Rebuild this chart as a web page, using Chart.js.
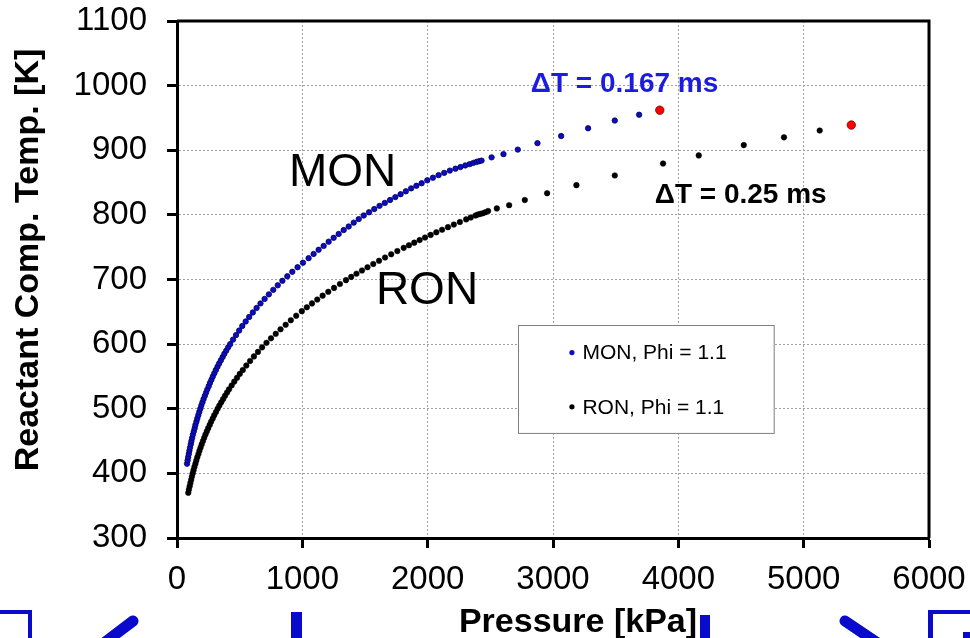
<!DOCTYPE html>
<html>
<head>
<meta charset="utf-8">
<script src="https://cdn.jsdelivr.net/npm/chart.js@4.4.0/dist/chart.umd.min.js"></script>
<style>
  html, body { margin: 0; padding: 0; background: #fff; }
  #wrap { width: 970px; height: 638px; position: relative; }
</style>
</head>
<body>
<div id="wrap"><canvas id="grafico" width="970" height="638"></canvas></div>
<script>
// === Dados ===
const monPressure = [80, 84.5, 89, 94, 99, 104, 110, 115, 121, 127, 134, 141, 147, 155, 162, 170, 178, 186, 194, 203,
  212, 222, 232, 242, 253, 263, 275, 286, 298, 310, 323, 336, 350, 364, 378, 393, 408, 424,
  447, 471, 496, 521, 548, 576, 605, 635, 666, 699, 733, 768, 804, 841, 880, 920, 962, 1005, 1050,
  1090, 1130, 1170, 1210, 1250, 1290, 1330, 1370, 1410, 1450, 1490,
  1532, 1574, 1616, 1658, 1700, 1742, 1784, 1826, 1868, 1910, 1952,
  1997, 2042, 2087, 2132, 2177, 2222, 2262, 2300, 2335, 2365, 2390, 2410, 2430,
  2510, 2605, 2719, 2876, 3065, 3280, 3493, 3687];
const monTemp = [415, 420, 425, 430, 435, 440, 445, 450, 455, 460, 465, 470, 475, 480, 485, 490, 495, 500, 505, 510,
  515, 520, 525, 530, 535, 540, 545, 550, 555, 560, 565, 570, 575, 580, 585, 590, 595, 600,
  607, 614, 621, 628, 635, 642, 649, 656, 663, 670, 677, 684, 691, 698, 705, 712, 719, 726, 733,
  739.5, 746, 752, 758.5, 764.5, 770.5, 776.5, 782, 788, 793.5, 799,
  804, 809, 814, 818.5, 823, 827.5, 832, 836.5, 841, 845, 849,
  853.5, 857.5, 861.5, 865, 868.5, 871.5, 874, 876.5, 878.5, 880.5, 882, 883, 884,
  889, 894, 901, 911, 922, 934, 946, 955];

const ronPressure = [90, 95, 101, 107, 113, 119, 125, 132, 139, 147, 154, 162, 171, 179, 188, 197, 207, 217, 227, 238,
  249, 261, 272, 285, 297, 311, 324, 338, 353, 368, 383, 399, 415,
  436, 457, 479, 501, 525,
  553, 583, 614, 646, 679, 714, 750, 788, 826, 867, 908, 951, 996,
  1036, 1077, 1119, 1162, 1207, 1253, 1300, 1348,
  1390, 1432, 1476, 1520, 1566, 1612, 1660, 1709, 1758, 1809,
  1851, 1893, 1936, 1979, 2024, 2069, 2115, 2162, 2209, 2257, 2307, 2344, 2382,
  2400, 2420, 2440, 2460,
  2482, 2552, 2650, 2775, 2953, 3187, 3493, 3878, 4163, 4522, 4843, 5128];
const ronTemp = [370, 375, 380, 385, 390, 395, 400, 405, 410, 415, 420, 425, 430, 435, 440, 445, 450, 455, 460, 465,
  470, 475, 480, 485, 490, 495, 500, 505, 510, 515, 520, 525, 530,
  536, 542, 548, 554, 560,
  567, 574, 581, 588, 595, 602, 609, 616, 623, 630, 637, 644, 651,
  657, 663, 669, 675, 681, 687, 693, 699,
  704, 709, 714, 719, 724, 729, 734, 739, 744, 749,
  753, 757, 761, 765, 769, 773, 777, 781, 785, 789, 793, 796, 799,
  800.5, 801.5, 802.5, 804,
  806, 810, 815, 823, 833.5, 846, 861, 879.5, 892, 908, 920, 930.5];

// pontos finais (vermelhos)
const endPressure = [3852, 5380];
const endTemp = [962, 939];

const seriesNames = ["MON, Phi = 1.1", "RON, Phi = 1.1"];
const xTicks = [0, 1000, 2000, 3000, 4000, 5000, 6000];
const yTicks = [300, 400, 500, 600, 700, 800, 900, 1000, 1100];

const FONTE = '"Liberation Sans", Arial, sans-serif';

function toPoints(xs, ys) {
  return xs.map((x, i) => ({ x: x, y: ys[i] }));
}

// === Plugins auxiliares ===
// moldura superior / direita
const moldura = {
  id: "moldura",
  beforeDatasetsDraw(chart) {
    const { ctx, chartArea } = chart;
    ctx.save();
    ctx.strokeStyle = "#000";
    ctx.lineWidth = 3;
    ctx.beginPath();
    ctx.moveTo(chartArea.left, chartArea.top);
    ctx.lineTo(chartArea.right, chartArea.top);
    ctx.lineTo(chartArea.right, chartArea.bottom);
    ctx.stroke();
    ctx.restore();
  }
};

// rótulos, legenda e títulos dos eixos
const rotulos = {
  id: "rotulos",
  afterDraw(chart) {
    const { ctx, chartArea } = chart;
    const x = chart.scales.x;
    const y = chart.scales.y;
    ctx.save();
    ctx.textAlign = "left";
    ctx.textBaseline = "alphabetic";

    ctx.fillStyle = "#000";
    ctx.font = `46px ${FONTE}`;
    ctx.fillText("MON", x.getPixelForValue(893), y.getPixelForValue(844));
    ctx.fillText("RON", x.getPixelForValue(1587), y.getPixelForValue(662));

    ctx.font = `bold 28px ${FONTE}`;
    ctx.fillStyle = "#1c1ce0";
    ctx.fillText("\u0394T = 0.167 ms", x.getPixelForValue(2823), y.getPixelForValue(990));
    ctx.fillStyle = "#000";
    ctx.fillText("\u0394T = 0.25 ms", x.getPixelForValue(3812), y.getPixelForValue(818));

    // legenda
    const lx1 = x.getPixelForValue(2720), lx2 = x.getPixelForValue(4760);
    const ly1 = y.getPixelForValue(629), ly2 = y.getPixelForValue(462);
    ctx.fillStyle = "#fff";
    ctx.fillRect(lx1, ly1, lx2 - lx1, ly2 - ly1);
    ctx.strokeStyle = "#7f7f7f";
    ctx.lineWidth = 1;
    ctx.strokeRect(Math.round(lx1) + 0.5, Math.round(ly1) + 0.5, lx2 - lx1, ly2 - ly1);

    const linhas = [587, 503];
    ctx.font = `21px ${FONTE}`;
    ctx.textBaseline = "middle";
    chart.data.datasets.slice(0, 2).forEach((ds, i) => {
      const cy = y.getPixelForValue(linhas[i]);
      ctx.beginPath();
      ctx.arc(x.getPixelForValue(3151), cy, 2.6, 0, Math.PI * 2);
      ctx.fillStyle = ds.backgroundColor;
      ctx.fill();
      ctx.fillStyle = "#000";
      ctx.fillText(ds.label, x.getPixelForValue(3235), cy + 1);
    });

    // títulos dos eixos
    ctx.font = `bold 34px ${FONTE}`;
    ctx.textAlign = "center";
    ctx.textBaseline = "alphabetic";
    ctx.fillStyle = "#000";
    ctx.fillText("Pressure [kPa]", chartArea.left + 401, chartArea.bottom + 94);
    ctx.save();
    ctx.translate(38, chartArea.top + 239);
    ctx.rotate(-Math.PI / 2);
    ctx.fillText("Reactant Comp. Temp. [K]", 0, 0);
    ctx.restore();

    // formas azuis cortadas na borda inferior (slide)
    ctx.fillStyle = "#0a0acd";
    ctx.fillRect(0, 610, 32, 4);
    ctx.fillRect(28, 610, 4, 28);
    ctx.fillRect(291, 612, 11, 26);
    ctx.fillRect(700, 615, 10, 23);
    ctx.fillRect(928, 610, 42, 4);
    ctx.fillRect(928, 610, 5, 28);
    ctx.fillRect(963, 632, 7, 6);
    ctx.strokeStyle = "#0a0acd";
    ctx.lineWidth = 11;
    ctx.lineCap = "round";
    ctx.beginPath();
    ctx.moveTo(133, 621); ctx.lineTo(100, 646);
    ctx.moveTo(845, 621); ctx.lineTo(885, 648);
    ctx.stroke();
    ctx.restore();
  }
};

// === Gráfico ===
const gradeComum = {
  color: "#a0a0a0",
  lineWidth: 1,
  tickColor: "#000",
  tickWidth: 3,
  tickLength: 10,
  tickBorderDash: []
};
const bordaComum = { display: true, color: "#000", width: 3, dash: [2, 2] };

const ctx = document.getElementById("grafico").getContext("2d");
new Chart(ctx, {
  type: "scatter",
  data: {
    datasets: [
      {
        label: seriesNames[0],
        data: toPoints(monPressure, monTemp),
        backgroundColor: "#0c0cc8",
        borderColor: "#000050",
        borderWidth: 0.8,
        pointRadius: 2.7
      },
      {
        label: seriesNames[1],
        data: toPoints(ronPressure, ronTemp),
        backgroundColor: "#000",
        borderColor: "#000",
        borderWidth: 0.5,
        pointRadius: 2.8
      },
      {
        label: "end",
        data: toPoints(endPressure, endTemp),
        backgroundColor: "#ff0000",
        borderColor: "#7a0000",
        borderWidth: 0.8,
        pointRadius: 4.2
      }
    ]
  },
  options: {
    responsive: false,
    animation: false,
    layout: { padding: { top: 21, right: 41, left: 0, bottom: 0 } },
    plugins: {
      legend: { display: false },
      tooltip: { enabled: false }
    },
    scales: {
      x: {
        type: "linear",
        min: 0,
        max: 6000,
        afterBuildTicks: (scale) => { scale.ticks = xTicks.map(v => ({ value: v })); },
        afterFit: (scale) => {
          scale.height = 100;
          scale.paddingLeft = 0;
          scale.paddingRight = 0;
        },
        grid: gradeComum,
        border: bordaComum,
        ticks: {
          color: "#000",
          padding: 12,
          maxRotation: 0,
          font: { family: FONTE, size: 33 },
          callback: (v) => String(v)
        }
      },
      y: {
        type: "linear",
        min: 300,
        max: 1100,
        afterBuildTicks: (scale) => { scale.ticks = yTicks.map(v => ({ value: v })); },
        afterFit: (scale) => {
          scale.width = 177;
          scale.paddingTop = 0;
          scale.paddingBottom = 0;
        },
        grid: gradeComum,
        border: bordaComum,
        ticks: {
          color: "#000",
          padding: 20,
          font: { family: FONTE, size: 33 },
          callback: (v) => String(v)
        }
      }
    }
  },
  plugins: [moldura, rotulos]
});
</script>
</body>
</html>
